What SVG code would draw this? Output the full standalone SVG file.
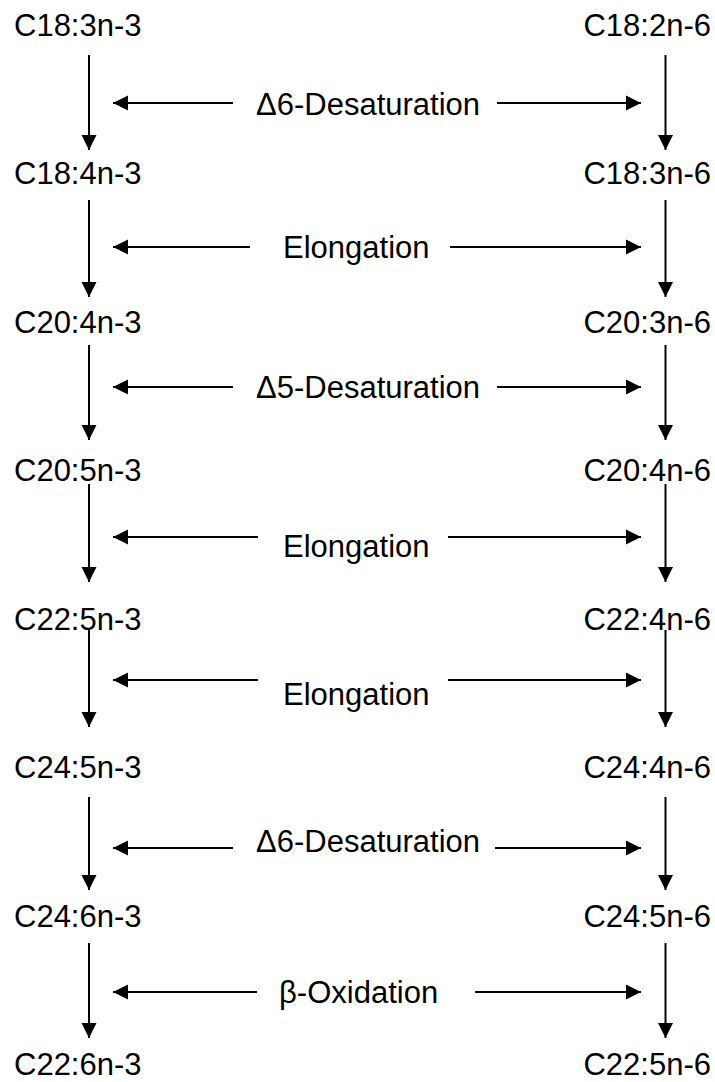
<svg xmlns="http://www.w3.org/2000/svg" width="715" height="1082" viewBox="0 0 715 1082">
  <style>
    .lbl { font-family: "Liberation Sans", Arial, sans-serif; font-size: 31px; fill: #000; }
    .r { text-anchor: end; }
    .ln { stroke: #000; stroke-width: 2; fill: none; marker-end: url(#head); }
  </style>
  <defs>
    <marker id="head" markerUnits="userSpaceOnUse" markerWidth="16" markerHeight="16" viewBox="0 0 16 16" refX="15" refY="8" orient="auto">
      <path d="M0,0.5 L15,8 L0,15.5 Z" fill="#000"/>
    </marker>
  </defs>
  <rect width="715" height="1082" fill="#fff"/>

  <!-- n-3 series -->
  <g id="n3-c18-3"><text class="lbl" x="14" y="36">C18:3n-3</text></g>
  <g id="n3-c18-4"><text class="lbl" x="14" y="184">C18:4n-3</text></g>
  <g id="n3-c20-4"><text class="lbl" x="14" y="333">C20:4n-3</text></g>
  <g id="n3-c20-5"><text class="lbl" x="14" y="481">C20:5n-3</text></g>
  <g id="n3-c22-5"><text class="lbl" x="14" y="630">C22:5n-3</text></g>
  <g id="n3-c24-5"><text class="lbl" x="14" y="778">C24:5n-3</text></g>
  <g id="n3-c24-6"><text class="lbl" x="14" y="927">C24:6n-3</text></g>
  <g id="n3-c22-6"><text class="lbl" x="14" y="1075">C22:6n-3</text></g>

  <!-- n-6 series -->
  <g id="n6-c18-2"><text class="lbl r" x="711" y="36">C18:2n-6</text></g>
  <g id="n6-c18-3"><text class="lbl r" x="711" y="184">C18:3n-6</text></g>
  <g id="n6-c20-3"><text class="lbl r" x="711" y="333">C20:3n-6</text></g>
  <g id="n6-c20-4"><text class="lbl r" x="711" y="481">C20:4n-6</text></g>
  <g id="n6-c22-4"><text class="lbl r" x="711" y="630">C22:4n-6</text></g>
  <g id="n6-c24-4"><text class="lbl r" x="711" y="778">C24:4n-6</text></g>
  <g id="n6-c24-5"><text class="lbl r" x="711" y="927">C24:5n-6</text></g>
  <g id="n6-c22-5"><text class="lbl r" x="711" y="1075">C22:5n-6</text></g>

  <!-- enzyme steps -->
  <g id="step1"><text class="lbl" x="256" y="115">Δ6-Desaturation</text></g>
  <g id="step2"><text class="lbl" x="283" y="258">Elongation</text></g>
  <g id="step3"><text class="lbl" x="256" y="398">Δ5-Desaturation</text></g>
  <g id="step4"><text class="lbl" x="283" y="557">Elongation</text></g>
  <g id="step5"><text class="lbl" x="283" y="705">Elongation</text></g>
  <g id="step6"><text class="lbl" x="256" y="852">Δ6-Desaturation</text></g>
  <g id="step7"><text class="lbl" x="279" y="1003">β-Oxidation</text></g>

  <g id="connectors">
    <!-- left column -->
    <line class="ln" x1="89" y1="55" x2="89" y2="150"/>
    <line class="ln" x1="89" y1="200" x2="89" y2="297"/>
    <line class="ln" x1="89" y1="345" x2="89" y2="440"/>
    <line class="ln" x1="89" y1="484" x2="89" y2="582"/>
    <line class="ln" x1="89" y1="630" x2="89" y2="727"/>
    <line class="ln" x1="89" y1="797" x2="89" y2="890"/>
    <line class="ln" x1="89" y1="943" x2="89" y2="1038"/>
    <!-- right column -->
    <line class="ln" x1="665.5" y1="55" x2="665.5" y2="150"/>
    <line class="ln" x1="665.5" y1="200" x2="665.5" y2="297"/>
    <line class="ln" x1="665.5" y1="345" x2="665.5" y2="440"/>
    <line class="ln" x1="665.5" y1="484" x2="665.5" y2="582"/>
    <line class="ln" x1="665.5" y1="630" x2="665.5" y2="727"/>
    <line class="ln" x1="665.5" y1="797" x2="665.5" y2="890"/>
    <line class="ln" x1="665.5" y1="943" x2="665.5" y2="1038"/>
    <!-- enzyme pointers -->
    <line class="ln" x1="233" y1="103" x2="113" y2="103"/>
    <line class="ln" x1="497" y1="103" x2="641" y2="103"/>
    <line class="ln" x1="250" y1="247" x2="113" y2="247"/>
    <line class="ln" x1="450" y1="247" x2="641" y2="247"/>
    <line class="ln" x1="233" y1="387" x2="113" y2="387"/>
    <line class="ln" x1="497" y1="387" x2="641" y2="387"/>
    <line class="ln" x1="258" y1="537" x2="113" y2="537"/>
    <line class="ln" x1="448" y1="537" x2="641" y2="537"/>
    <line class="ln" x1="258" y1="680" x2="113" y2="680"/>
    <line class="ln" x1="448" y1="680" x2="641" y2="680"/>
    <line class="ln" x1="233" y1="848" x2="113" y2="848"/>
    <line class="ln" x1="495" y1="848" x2="641" y2="848"/>
    <line class="ln" x1="257" y1="992" x2="113" y2="992"/>
    <line class="ln" x1="475" y1="992" x2="641" y2="992"/>
  </g>
</svg>
